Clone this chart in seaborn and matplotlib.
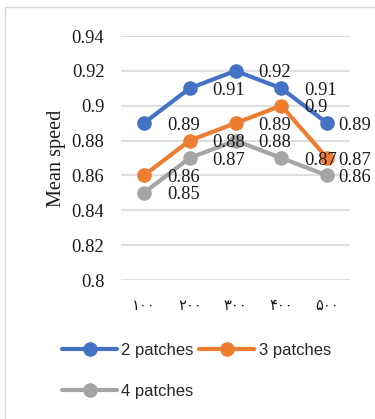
import matplotlib
matplotlib.use("Agg")
import matplotlib.pyplot as plt
import seaborn as sns
import pandas as pd
from matplotlib.patches import Rectangle

categories = ["۱۰۰", "۲۰۰", "۳۰۰", "۴۰۰", "۵۰۰"]
series_names = ["2 patches", "3 patches", "4 patches"]
values_2 = [0.89, 0.91, 0.92, 0.91, 0.89]
values_3 = [0.86, 0.88, 0.89, 0.90, 0.87]
values_4 = [0.85, 0.87, 0.88, 0.87, 0.86]
y_ticks = [0.8, 0.82, 0.84, 0.86, 0.88, 0.9, 0.92, 0.94]
y_tick_labels = ["0.8", "0.82", "0.84", "0.86", "0.88", "0.9", "0.92", "0.94"]
colors = ["#4472C4", "#ED7D31", "#A5A5A5"]

rows = []
for name, vals in zip(series_names, [values_2, values_3, values_4]):
    for i, (c, v) in enumerate(zip(categories, vals)):
        rows.append({"pos": i, "cat": c, "value": v, "series": name})
df = pd.DataFrame(rows)

sns.set_theme(style="white")
W, H = 375, 419
fig = plt.figure(figsize=(W / 100, H / 100), dpi=100)
ax = fig.add_axes([121 / W, 1 - 280 / H, (350 - 121) / W, (280 - 36) / H])

sns.lineplot(data=df, x="pos", y="value", hue="series", palette=colors,
             marker="o", markersize=10.5, markeredgewidth=0, linewidth=3,
             ax=ax, legend=True)

ax.set_xlim(-0.5, 4.5)
ax.set_ylim(0.8, 0.94)
ax.set_yticks(y_ticks)
ax.set_yticklabels(y_tick_labels, family="Liberation Serif", fontsize=13.3, color="#1a1a1a")
ax.set_xticks(range(len(categories)))
ax.set_xticklabels(categories, family=["DejaVu Sans"], fontsize=10.5, color="#1a1a1a")
ax.tick_params(axis="y", length=0, pad=12)
ax.tick_params(axis="x", length=0, pad=13)
ax.grid(axis="y", color="#D9D9D9", linewidth=1.2)
ax.set_axisbelow(True)
for s in ax.spines.values():
    s.set_visible(False)
ax.set_xlabel("")
ax.set_ylabel("Mean speed", family="Liberation Serif", fontsize=14.6, color="#1a1a1a", labelpad=4)

n = len(categories)
for name, vals in zip(series_names, [values_2, values_3, values_4]):
    for i, v in enumerate(vals):
        dx = 8 if i == n - 1 else 16.5
        ax.annotate(f"{v:g}", (i, v), xytext=(dx, -1.5), textcoords="offset points",
                    ha="left", va="center", family="Liberation Serif",
                    fontsize=13.3, color="#1a1a1a", annotation_clip=False)

handles, labels = ax.get_legend_handles_labels()
order = [0, 2, 1]
ax.legend([handles[k] for k in order], [labels[k] for k in order], loc="upper left",
          bbox_to_anchor=(62 / W, 1 - 343 / H),
          bbox_transform=fig.transFigure, ncol=2, frameon=False,
          prop={"family": "Liberation Sans", "size": 12}, handlelength=3.3,
          handletextpad=0.25, columnspacing=0.35, labelspacing=1.55, borderpad=0,
          borderaxespad=0)

fig.patches.append(Rectangle((5 / W, -0.1), 1.2, 1 - 7 / H + 0.1, transform=fig.transFigure,
                             fill=False, edgecolor="#D9D9D9", linewidth=1))

fig.savefig("out.png", dpi=100)
